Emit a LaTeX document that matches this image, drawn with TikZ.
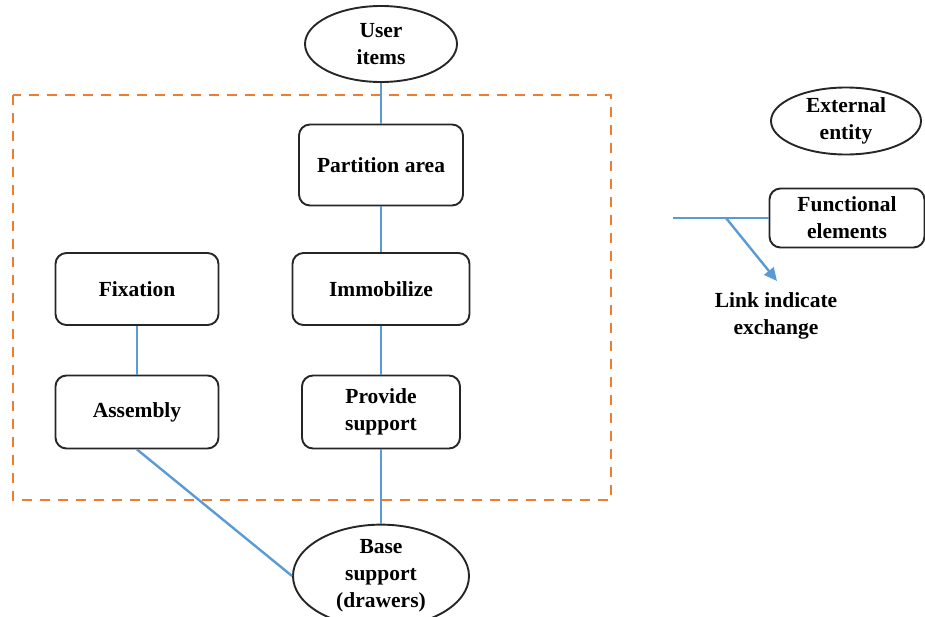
\documentclass[tikz,border=0pt]{standalone}
\usepackage{fontspec}
\setmainfont{Liberation Serif}
\usetikzlibrary{shapes.geometric,arrows.meta}
\definecolor{lnblue}{RGB}{91,155,213}
\definecolor{dorange}{RGB}{237,125,49}
\tikzset{
  box/.style={draw=black!85, line width=1.9pt, rounded corners=11pt, align=center, inner sep=0pt, font=\fontsize{21.5}{27}\selectfont\bfseries},
  oval/.style={draw=black!85, ellipse, line width=1.9pt, align=center, inner sep=0pt, font=\fontsize{21.5}{27}\selectfont\bfseries},
  link/.style={draw=lnblue, line width=2.4pt},
  lbl/.style={align=center, font=\fontsize{21.5}{27}\selectfont\bfseries}
}
\begin{document}
\begin{tikzpicture}[x=1pt,y=-1pt]
\useasboundingbox (0,0) rectangle (925,616);
\draw[dorange, line width=2.8pt, dash pattern=on 10pt off 8pt] (13,95) rectangle (611,500);
\node[oval, minimum width=152pt, minimum height=76pt] (user) at (381,44) {User\\items};
\node[box, minimum width=164pt, minimum height=81pt] (part) at (381,165) {Partition area};
\node[box, minimum width=177pt, minimum height=72pt] (immo) at (381,289) {Immobilize};
\node[box, minimum width=163pt, minimum height=72pt] (fix) at (137,289) {Fixation};
\node[box, minimum width=163pt, minimum height=73pt] (asm) at (137,412) {Assembly};
\node[box, minimum width=158pt, minimum height=73pt] (prov) at (381,412) {Provide\\support};
\node[oval, minimum width=176pt, minimum height=82pt] (base) at (381,576) {Base\\support\\(drawers)};
\node[oval, minimum width=150pt, minimum height=67pt] (ext) at (846,121) {External\\entity};
\node[box, minimum width=155pt, minimum height=59pt] (func) at (847,218) {Functional\\elements};
\coordinate (fl) at (673,218);
\coordinate (fb) at (726,218);
\coordinate (fa) at (777,281);
\node[lbl] (linktxt) at (776,316) {Link indicate\\exchange};
\draw[link] (user.south) -- (part.north);
\draw[link] (part.south) -- (immo.north);
\draw[link] (immo.south) -- (prov.north);
\draw[link] (fix.south) -- (asm.north);
\draw[link] (prov.south) -- (base.north);
\draw[link] (asm.south) -- (base.west);
\draw[link] (fl) -- (func.west);
\draw[link, -{Triangle[length=13pt,width=12pt]}] (fb) -- (fa);
\end{tikzpicture}
\end{document}
